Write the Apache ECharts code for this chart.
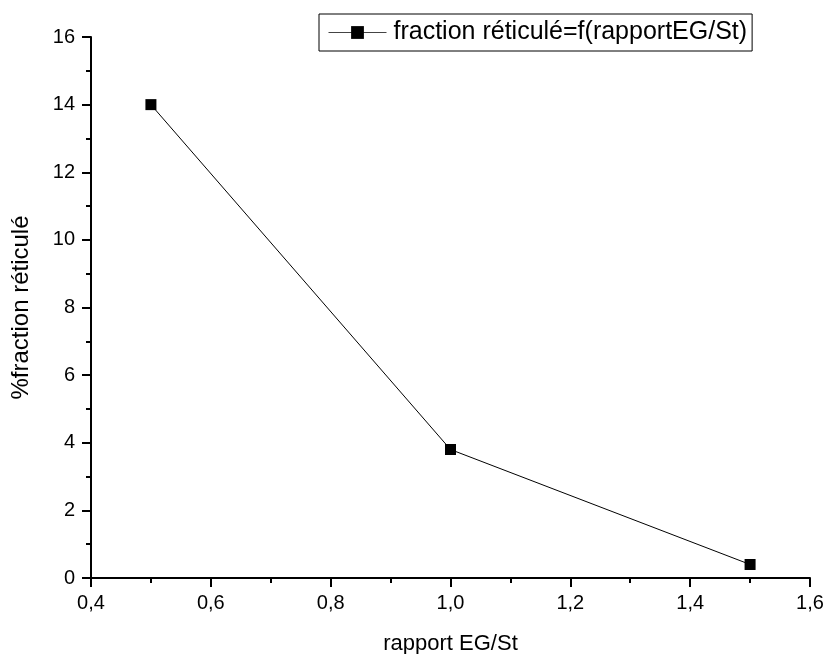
<!DOCTYPE html>
<html>
<head>
<meta charset="utf-8">
<script src="https://cdn.jsdelivr.net/npm/echarts@6/dist/echarts.min.js"></script>
<style>html,body{margin:0;padding:0;background:#fff}#c{width:825px;height:654px}</style>
</head>
<body>
<div id="c"></div>
<script>
const xValues = [0.5, 1.0, 1.5];
const yValues = [14, 3.8, 0.4];
const seriesName = 'fraction réticulé=f(rapportEG/St)';
const xAxisName = 'rapport EG/St';
const yAxisName = '%fraction réticulé';

const chart = echarts.init(document.getElementById('c'));
const font = 'Liberation Sans, Arial, sans-serif';
chart.setOption({
  animation: false,
  backgroundColor: '#fff',
  grid: {left: 91, right: 15, top: 37, bottom: 76, containLabel: false, outerBoundsMode: 'none'},
  legend: {
    left: 319, top: 14,
    borderColor: '#000', borderWidth: 1, padding: [6, 5, 6, 9],
    itemWidth: 58, itemHeight: 16,
    lineStyle: {width: 1, color: '#444'},
    textStyle: {fontFamily: font, fontSize: 25, color: '#000', padding: [0, 0, 0, 2]},
    data: [seriesName]
  },
  xAxis: {
    type: 'value', min: 0.4, max: 1.6, interval: 0.2,
    name: xAxisName, nameLocation: 'middle', nameGap: 55,
    nameTextStyle: {fontFamily: font, fontSize: 22, color: '#000'},
    axisLine: {show: true, lineStyle: {color: '#000', width: 2}},
    axisTick: {show: true, inside: false, length: 9, lineStyle: {color: '#000', width: 2}},
    minorTick: {show: true, splitNumber: 2, length: 5, lineStyle: {color: '#000', width: 2}},
    splitLine: {show: false},
    axisLabel: {fontFamily: font, fontSize: 20, color: '#000', margin: 15,
      formatter: v => v.toFixed(1).replace('.', ',')}
  },
  yAxis: {
    type: 'value', min: 0, max: 16, interval: 2,
    name: yAxisName, nameLocation: 'middle', nameGap: 58,
    nameTextStyle: {fontFamily: font, fontSize: 24, color: '#000'},
    axisLine: {show: true, lineStyle: {color: '#000', width: 2}},
    axisTick: {show: true, inside: false, length: 9, lineStyle: {color: '#000', width: 2}},
    minorTick: {show: true, splitNumber: 2, length: 5, lineStyle: {color: '#000', width: 2}},
    splitLine: {show: false},
    axisLabel: {fontFamily: font, fontSize: 20, color: '#000', margin: 16,
      formatter: v => String(v)}
  },
  series: [{
    name: seriesName,
    type: 'line',
    data: xValues.map((x, i) => [x, yValues[i]]),
    symbol: 'rect', symbolSize: 11,
    lineStyle: {color: '#000', width: 1},
    itemStyle: {color: '#000'}
  }]
});
</script>
</body>
</html>
